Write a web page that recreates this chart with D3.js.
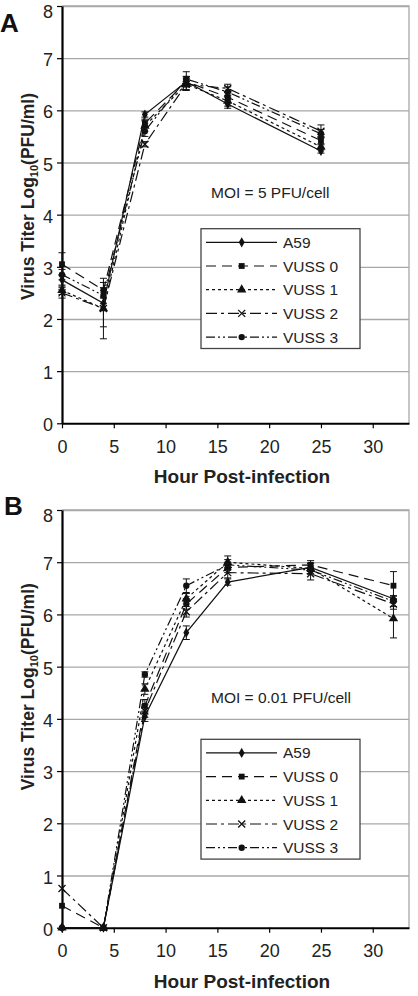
<!DOCTYPE html>
<meta charset="utf-8">
<head>
    <title>Virus titer growth curves</title>
    <script type="text/javascript" src="https://cdn.jsdelivr.net/npm/d3@7"></script>
    <style>
        body { margin: 0; background: #fff; }
        svg { display: block; font-family: "Liberation Sans", Arial, sans-serif; }
        .grid line { stroke: #a8a8a8; stroke-width: 1.3; }
        .grid path { display: none; }
        .axis path, .axis line { stroke: #000; }
        .axis text { font-size: 18px; fill: #222; }
    </style>
</head>

<body>
<div id="chart"></div>

<script type="text/javascript">

    // series names and legend
    var seriesNames = ["A59", "VUSS 0", "VUSS 1", "VUSS 2", "VUSS 3"];
    var xTicks = [0, 5, 10, 15, 20, 25, 30];
    var yTicks = [0, 1, 2, 3, 4, 5, 6, 7, 8];

    // panel A : MOI = 5 PFU/cell
    var hoursA = [0, 4, 8, 12, 16, 25];
    var a59A   = [2.75, 2.30, 5.92, 6.55, 6.12, 5.22];
    var vuss0A = [3.05, 2.55, 5.75, 6.55, 6.25, 5.42];
    var vuss1A = [2.55, 2.20, 5.70, 6.50, 6.18, 5.30];
    var vuss2A = [2.50, 2.20, 5.35, 6.50, 6.42, 5.60];
    var vuss3A = [2.85, 2.45, 5.60, 6.60, 6.35, 5.55];
    var errA59A   = [0.10, 0.12, 0.05, 0.10, 0.08, 0.04];
    var errVuss0A = [0.22, 0.15, 0.08, 0.10, 0.10, 0.08];
    var errVuss1A = [0.08, 0.35, 0.10, 0.12, 0.10, 0.06];
    var errVuss2A = [0.10, 0.58, 0.05, 0.10, 0.08, 0.12];
    var errVuss3A = [0.10, 0.15, 0.10, 0.14, 0.10, 0.08];

    // panel B : MOI = 0.01 PFU/cell
    var hoursB = [0, 4, 8, 12, 16, 24, 32];
    var a59B   = [0, 0, 4.05, 5.65, 6.62, 6.90, 6.30];
    var vuss0B = [0.42, 0, 4.25, 6.20, 6.90, 6.95, 6.55];
    var vuss1B = [0, 0, 4.57, 6.30, 7.00, 6.88, 5.92];
    var vuss2B = [0.75, 0, 4.15, 6.05, 6.80, 6.78, 6.20];
    var vuss3B = [0, 0, 4.85, 6.55, 6.95, 6.85, 6.25];
    var errA59B   = [0, 0, 0.10, 0.13, 0.06, 0.08, 0.06];
    var errVuss0B = [0, 0, 0.12, 0.10, 0.10, 0.08, 0.27];
    var errVuss1B = [0, 0, 0.10, 0.10, 0.12, 0.10, 0.37];
    var errVuss2B = [0, 0, 0.12, 0.10, 0.10, 0.12, 0.10];
    var errVuss3B = [0, 0, 0.05, 0.13, 0.10, 0.08, 0.10];

    // line + marker style per series
    var dashes  = ["none", "10,6", "3,3", "11,4,3,4", "9,3,2,3,2,3"];
    var symbols = ["diamond", "square", "triangle", "cross", "circle"];

    var w = 418, h = 996;
    var left = 62, right = 409;

    var svg = d3.select("#chart").append("svg")
        .attr("width", w)
        .attr("height", h);

    function buildSeries(hours, vals, errs) {
        return vals.map(function(v, i) {
            return {
                name: seriesNames[i],
                points: hours.map(function(t, j) { return {t: t, v: v[j], e: errs[i][j]}; })
            };
        });
    }

    var panels = [
        {
            letter: "A", letterX: 0, letterY: 32, top: 6, bottom: 423.3,
            moi: "MOI = 5 PFU/cell", moiY: 193, legendTop: 228.7, titleY: 196.5,
            series: buildSeries(hoursA, [a59A, vuss0A, vuss1A, vuss2A, vuss3A],
                                [errA59A, errVuss0A, errVuss1A, errVuss2A, errVuss3A])
        },
        {
            letter: "B", letterX: 4, letterY: 515, top: 510, bottom: 927.7,
            moi: "MOI = 0.01 PFU/cell", moiY: 697.3, legendTop: 739.3, titleY: 686.7,
            series: buildSeries(hoursB, [a59B, vuss0B, vuss1B, vuss2B, vuss3B],
                                [errA59B, errVuss0B, errVuss1B, errVuss2B, errVuss3B])
        }
    ];

    function drawMarker(sel, type, cx, cy) {
        if (type === "cross") {
            sel.append("path")
                .attr("d", "M" + (cx-3.5) + "," + (cy-3.5) + "L" + (cx+3.5) + "," + (cy+3.5) +
                           "M" + (cx-3.5) + "," + (cy+3.5) + "L" + (cx+3.5) + "," + (cy-3.5))
                .attr("stroke", "#111").attr("stroke-width", 1.3).attr("fill", "none");
            return;
        }
        var sym = {diamond: d3.symbolDiamond, square: d3.symbolSquare,
                   triangle: d3.symbolTriangle, circle: d3.symbolCircle}[type];
        var size = {diamond: 30, square: 34, triangle: 38, circle: 32}[type];
        sel.append("path")
            .attr("d", d3.symbol().type(sym).size(size)())
            .attr("transform", "translate(" + cx + "," + cy + ")")
            .attr("fill", "#111");
    }

    panels.forEach(function(p) {
        var x = d3.scaleLinear().domain([0, 33.5]).range([left, right]);
        var y = d3.scaleLinear().domain([0, 8]).range([p.bottom, p.top]);
        var g = svg.append("g");

        // grid
        g.append("g").attr("class", "grid")
            .attr("transform", "translate(" + left + ",0)")
            .call(d3.axisLeft(y).tickValues(yTicks.slice(1)).tickSize(-(right - left)).tickFormat(""));

        // plot border (top, right)
        g.append("path")
            .attr("d", "M" + left + "," + p.top + "H" + right + "V" + p.bottom)
            .attr("fill", "none").attr("stroke", "#a8a8a8").attr("stroke-width", 1.3);

        // axes
        var xa = g.append("g").attr("class", "axis")
            .attr("transform", "translate(0," + p.bottom + ")")
            .call(d3.axisBottom(x).tickValues(xTicks).tickSize(5).tickPadding(12).tickSizeOuter(0));
        xa.select("path").attr("stroke-width", 2);
        xa.selectAll("line").attr("stroke-width", 1.2);

        var ya = g.append("g").attr("class", "axis")
            .attr("transform", "translate(" + left + ",0)")
            .call(d3.axisLeft(y).tickValues(yTicks).tickSize(5).tickPadding(4).tickSizeOuter(0));
        ya.select("path").attr("stroke-width", 2.2);
        ya.selectAll("line").attr("stroke-width", 1.2);
        ya.selectAll("text").attr("dy", function(d) { return d === 8 ? "0.62em" : "0.42em"; });

        // series lines
        var line = d3.line().x(function(d) { return x(d.t); }).y(function(d) { return y(d.v); });

        p.series.forEach(function(s, i) {
            var sg = g.append("g");
            // error bars
            s.points.forEach(function(d) {
                if (d.e > 0) {
                    var y1 = y(d.v - d.e), y2 = y(d.v + d.e), cx = x(d.t);
                    sg.append("path")
                        .attr("d", "M" + cx + "," + y1 + "V" + y2 +
                                   "M" + (cx-3.5) + "," + y1 + "H" + (cx+3.5) +
                                   "M" + (cx-3.5) + "," + y2 + "H" + (cx+3.5))
                        .attr("stroke", "#111").attr("stroke-width", 1).attr("fill", "none");
                }
            });
            sg.append("path")
                .datum(s.points)
                .attr("d", line)
                .attr("fill", "none")
                .attr("stroke", "#111")
                .attr("stroke-width", 1.2)
                .attr("stroke-dasharray", dashes[i]);
            s.points.forEach(function(d) {
                drawMarker(sg, symbols[i], x(d.t), y(d.v));
            });
        });

        // MOI label
        g.append("text")
            .attr("x", 211).attr("y", p.moiY)
            .attr("dy", "0.35em")
            .attr("font-size", "15.5px").attr("fill", "#222")
            .text(p.moi);

        // legend
        var lg = g.append("g");
        lg.append("rect")
            .attr("x", 201).attr("y", p.legendTop)
            .attr("width", 159).attr("height", 119.8)
            .attr("fill", "#fff").attr("stroke", "#444").attr("stroke-width", 1.3);
        seriesNames.forEach(function(name, i) {
            var ly = p.legendTop + 13.6 + i * 23.7;
            lg.append("line")
                .attr("x1", 206).attr("x2", 277).attr("y1", ly).attr("y2", ly)
                .attr("stroke", "#111").attr("stroke-width", 1.2)
                .attr("stroke-dasharray", dashes[i]);
            drawMarker(lg, symbols[i], 241.7, ly);
            lg.append("text")
                .attr("x", 283).attr("y", ly).attr("dy", "0.36em")
                .attr("font-size", "15.5px").attr("fill", "#222")
                .text(name);
        });

        // axis titles
        g.append("text")
            .attr("x", 242).attr("y", p.bottom + 60)
            .attr("text-anchor", "middle")
            .attr("font-size", "19px").attr("font-weight", "bold").attr("fill", "#222")
            .text("Hour Post-infection");

        var yt = g.append("text")
            .attr("transform", "translate(34," + p.titleY + ") rotate(-90)")
            .attr("text-anchor", "middle")
            .attr("font-size", "17.5px").attr("font-weight", "bold").attr("fill", "#222");
        yt.append("tspan").text("Virus Titer Log");
        yt.append("tspan").attr("font-size", "11px").attr("dy", 4).text("10");
        yt.append("tspan").attr("dy", -4).text("(PFU/ml)");

        // panel letter
        g.append("text")
            .attr("x", p.letterX).attr("y", p.letterY)
            .attr("font-size", "26px").attr("font-weight", "bold").attr("fill", "#111")
            .text(p.letter);
    });

</script>
</body>
</html>
